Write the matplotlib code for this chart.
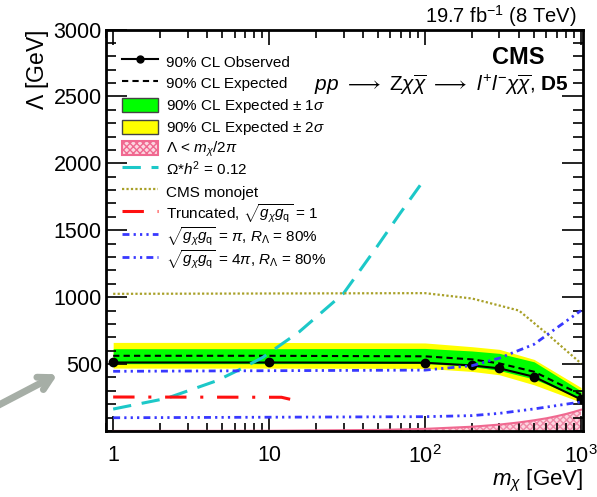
import matplotlib
matplotlib.use("Agg")
import matplotlib.pyplot as plt
from matplotlib.patches import Patch, Rectangle
from matplotlib.lines import Line2D
from matplotlib.legend_handler import HandlerPatch
from matplotlib.ticker import FixedLocator, FixedFormatter, MultipleLocator

plt.rcParams['font.family'] = ['Liberation Sans', 'DejaVu Sans']
plt.rcParams['mathtext.fontset'] = 'custom'
plt.rcParams['mathtext.rm'] = 'Liberation Sans'
plt.rcParams['mathtext.it'] = 'Liberation Sans:italic'
plt.rcParams['mathtext.bf'] = 'Liberation Sans:bold'

# limits vs dark matter mass
mass = [1, 10, 100, 200, 300, 500, 1000]
observed = [512, 512, 510, 490, 468, 405, 236]
expected = [562, 562, 558, 535, 505, 443, 272]
exp_1s_up = [615, 615, 617, 598, 580, 517, 300]
exp_1s_dn = [503, 503, 505, 482, 452, 388, 244]
exp_2s_up = [662, 662, 658, 630, 610, 535, 325]
exp_2s_dn = [470, 470, 468, 445, 420, 345, 215]

# Lambda < m/2pi region
excl_mass = [1, 10, 50, 100, 200, 300, 400, 500, 600, 700, 800, 900, 1000]
excl_lam = [0.2, 1.6, 8, 16, 32, 48, 64, 80, 95, 111, 127, 143, 159]

# relic density
relic_mass = [1, 2.2, 2.9, 4.6, 6.5, 9.1, 15.6, 30, 49, 69, 93]
relic_lam = [164, 244, 293, 375, 460, 550, 741, 1028, 1375, 1625, 1836]

# CMS monojet
mono_mass = [1, 100, 200, 400, 600, 1000]
mono_lam = [1025, 1030, 990, 900, 730, 505]

# truncated, coupling 1
trunc_mass = [1, 12, 15]
trunc_lam = [254, 252, 226]

# R_Lambda = 80%
rpi_mass = [1, 100, 200, 300, 500, 1000]
rpi_lam = [99, 107, 115, 132, 165, 217]
r4pi_mass = [1, 100, 200, 300, 500, 660, 1000]
r4pi_lam = [446, 455, 488, 545, 648, 750, 900]

fig = plt.figure(figsize=(5.97, 4.97), dpi=100)
ax = fig.add_axes([0.1776, 0.1328, 0.799, 0.8078])

ax.fill_between(mass, exp_2s_dn, exp_2s_up, color='#ffff00', lw=0)
ax.fill_between(mass, exp_1s_dn, exp_1s_up, color='#00ff00', lw=0)
ax.fill_between(excl_mass, 0, excl_lam, facecolor='#fcd6e0', edgecolor='#f08aa8',
                hatch='xxxxx', lw=0)
ax.plot(excl_mass, excl_lam, color='#f06890', lw=1.5)
ax.plot(mass, expected, color='black', ls=(0, (3, 2)), lw=1.5)
ax.plot(mass, observed, color='black', lw=1.5, marker='o', ms=6)
ax.plot(relic_mass, relic_lam, color='#1cc8c8', lw=2.2, dashes=(6, 3.5))
ax.plot(mono_mass, mono_lam, color='#a8a028', lw=1.6, ls=(0, (1, 1)))
ax.plot(trunc_mass, trunc_lam, color='#ff1010', lw=2.2, dashes=(7, 4.5, 1, 4.5))
ax.plot(rpi_mass, rpi_lam, color='#3838ff', lw=2, dashes=(2.5, 1.5, 0.8, 1.5, 0.8, 1.5, 0.8, 1.5))
ax.plot(r4pi_mass, r4pi_lam, color='#3838ff', lw=2, dashes=(2.5, 1.5, 0.8, 1.5, 0.8, 1.5))

ax.set_xscale('log')
ax.set_xlim(0.9, 1030)
ax.set_ylim(0, 3000)

ax.xaxis.set_major_locator(FixedLocator([1, 10, 100, 1000]))
ax.xaxis.set_major_formatter(FixedFormatter(['1', '10', '$10^2$', '$10^3$']))
ax.yaxis.set_major_locator(MultipleLocator(500))
ax.yaxis.set_minor_locator(MultipleLocator(100))
ax.set_yticks([500, 1000, 1500, 2000, 2500, 3000])
ax.tick_params(which='both', direction='in', top=True, right=True, labelsize=15.5)
ax.tick_params(axis='x', which='major', length=11, width=1.2, pad=10)
ax.tick_params(axis='x', which='minor', length=6, width=1.2)
ax.tick_params(axis='y', which='major', length=15, width=1.2, pad=3)
ax.tick_params(axis='y', which='minor', length=7, width=1.2)
for s in ax.spines.values():
    s.set_linewidth(2)

ax.set_xlabel(r'$m_\chi$ [GeV]', fontsize=16, loc='right', labelpad=0)
ax.set_ylabel(r'$\Lambda$ [GeV]', fontsize=16.5, loc='top', labelpad=2)


def small_box(legend, orig_handle, xdescent, ydescent, width, height, fontsize):
    return Rectangle((-xdescent, -ydescent + 0.17 * height), width, 0.66 * height)


handles = [
    Line2D([], [], color='black', lw=1.5, marker='o', ms=5),
    Line2D([], [], color='black', lw=1.5, ls=(0, (3, 2))),
    Patch(facecolor='#00ff00', edgecolor='#444444', lw=1),
    Patch(facecolor='#ffff00', edgecolor='#444444', lw=1),
    Patch(facecolor='#fcd6e0', edgecolor='#f06890', hatch='xxxxx', lw=1.5),
    Line2D([], [], color='#1cc8c8', lw=2.2, dashes=(6, 3.5)),
    Line2D([], [], color='#a8a028', lw=1.6, ls=(0, (1, 1))),
    Line2D([], [], color='#ff1010', lw=2.2, dashes=(7, 4.5, 1, 4.5)),
    Line2D([], [], color='#3838ff', lw=2, dashes=(2.5, 1.5, 0.8, 1.5, 0.8, 1.5, 0.8, 1.5)),
    Line2D([], [], color='#3838ff', lw=2, dashes=(2.5, 1.5, 0.8, 1.5, 0.8, 1.5)),
]
labels = [
    '90% CL Observed',
    '90% CL Expected',
    r'90% CL Expected $\pm$ 1$\sigma$',
    r'90% CL Expected $\pm$ 2$\sigma$',
    r'$\Lambda$ < $m_\chi$/2$\pi$',
    r'$\Omega$*$h^2$ = 0.12',
    'CMS monojet',
    r'Truncated, $\sqrt{g_\chi g_{\rm q}}$ = 1',
    r'$\sqrt{g_\chi g_{\rm q}}$ = $\pi$, $R_\Lambda$ = 80%',
    r'$\sqrt{g_\chi g_{\rm q}}$ = 4$\pi$, $R_\Lambda$ = 80%',
]
ax.legend(handles, labels, loc='upper left', bbox_to_anchor=(0.02, 0.961),
          frameon=False, fontsize=11, handlelength=2.4, handleheight=1.79,
          labelspacing=0.0, handletextpad=0.5, borderaxespad=0,
          handler_map={Patch: HandlerPatch(patch_func=small_box)})

fig.text(0.966, 0.968, r'19.7 fb$^{-1}$ (8 TeV)', ha='right', va='center', fontsize=14.5)
ax.text(0.92, 0.93, 'CMS', transform=ax.transAxes, ha='right', va='center',
        fontsize=17, fontweight='bold')
ax.text(0.97, 0.862,
        r'$pp$ $\longrightarrow$ Z$\chi\overline{\chi}$ $\longrightarrow$ $l^{+}l^{-}\chi\overline{\chi}$, $\mathbf{D5}$',
        transform=ax.transAxes, ha='right', va='center', fontsize=15)

ax.annotate('', xy=(60, 124), xycoords='figure pixels',
            xytext=(-5, 90), textcoords='figure pixels',
            arrowprops=dict(arrowstyle='->, head_length=0.9, head_width=0.5',
                            color='#a6aea6', lw=5))

fig.savefig('out.png', dpi=100)
